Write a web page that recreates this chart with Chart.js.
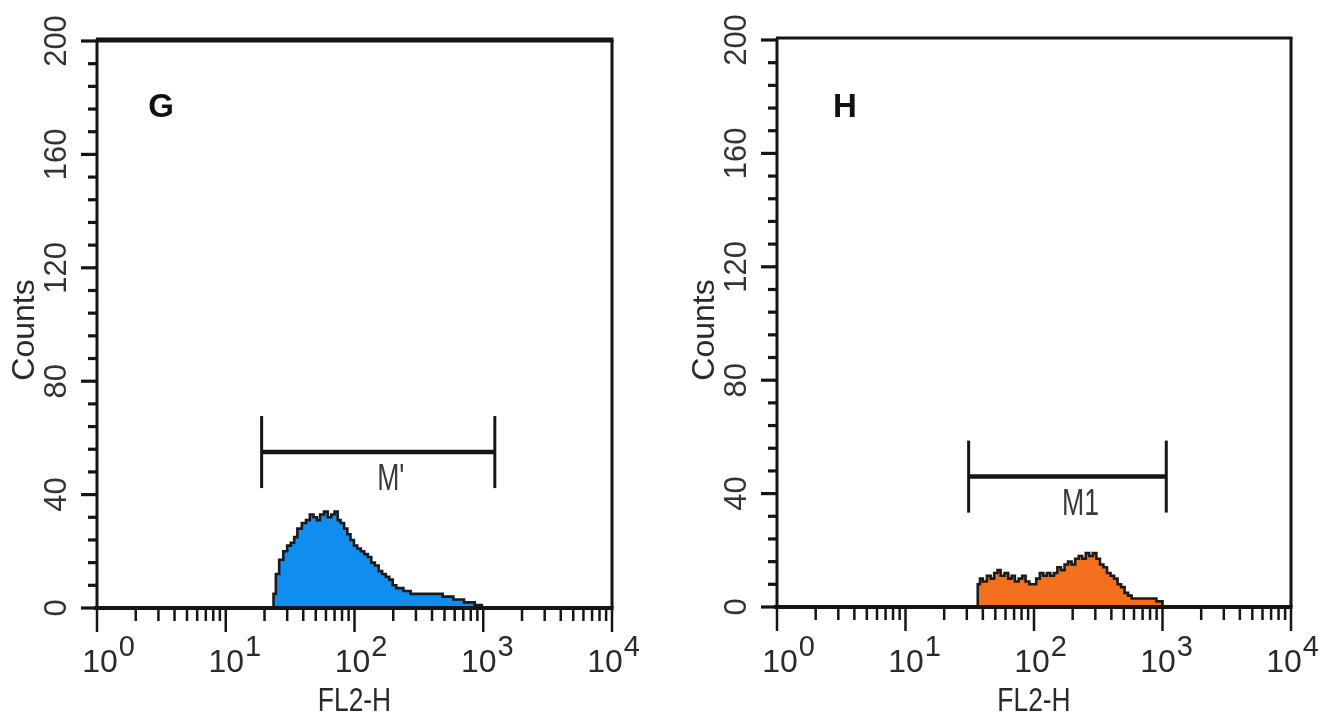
<!DOCTYPE html>
<html>
<head>
<meta charset="utf-8">
<script src="https://cdn.jsdelivr.net/npm/chart.js@4.4.1/dist/chart.umd.min.js"></script>
<style>
  html, body { margin: 0; padding: 0; background: #ffffff; }
  #wrap { position: relative; width: 1320px; height: 716px; overflow: hidden; background: #fff; }
  canvas { position: absolute; top: 0; }
</style>
</head>
<body>
<div id="wrap">
  <canvas id="cG" width="660" height="716" style="left:0px"></canvas>
  <canvas id="cH" width="660" height="716" style="left:660px"></canvas>
</div>
<script>
// ---------- DATA ----------
const panelLetters = ['G', 'H'];
const xTitle = 'FL2-H';
const yTitle = 'Counts';
const xTickExponents = [0, 1, 2, 3, 4];
const yTickLabels = ['0', '40', '80', '120', '160', '200'];

// Panel G histogram (FL2-H channel value, counts)
const gFL2 = [23, 23.5, 24.5, 26, 28, 30, 32, 34, 36, 39, 42, 45, 48, 51, 54, 58, 62, 66, 70, 74, 78, 83, 88, 93, 99, 105, 112, 119, 127, 135, 144, 154, 164, 175, 186, 198, 211, 225, 240, 256, 273, 291, 310, 330, 352, 375, 400, 426, 454, 484, 516, 550, 586, 624, 665, 709, 756, 806, 859, 915, 975];
const gCounts = [0, 5, 12, 17, 20, 22, 23, 25, 28, 30, 31, 33, 32, 31, 33, 34, 32, 33, 34, 31, 30, 28, 26, 24, 22, 21, 20, 19, 18, 16, 15, 13, 12, 11, 10, 8, 7, 7, 6, 6, 5, 5, 5, 5, 5, 5, 5, 5, 5, 4, 4, 4, 3, 3, 3, 2, 2, 2, 1, 1, 0];

// Panel H histogram
const hFL2 = [36, 36.5, 38, 40, 43, 46, 49, 52, 55, 59, 63, 67, 71, 76, 81, 86, 92, 98, 104, 111, 118, 126, 134, 143, 152, 162, 173, 184, 196, 209, 223, 237, 253, 269, 287, 306, 326, 347, 370, 394, 420, 447, 476, 507, 540, 575, 613, 653, 696, 741, 790, 841, 896, 955, 1000];
const hCounts = [0, 8, 10, 9, 11, 10, 12, 13, 11, 12, 10, 11, 9, 10, 11, 9, 8, 8, 10, 12, 11, 12, 11, 12, 14, 13, 15, 16, 15, 17, 18, 17, 19, 18, 19, 17, 15, 14, 12, 11, 10, 8, 7, 5, 4, 3, 3, 3, 3, 3, 3, 3, 2, 2, 0];

// Marker gates: [start, end, counts level]
const gMarker = [19, 1230, 55];
const hMarker = [31, 1070, 46];
const markerLabels = ["M'", 'M1'];

// ---------- DRAWING ----------
const FONT = '"Liberation Sans", Arial, Helvetica, sans-serif';

function pts(xs, ys) { return xs.map((x, i) => ({ x: x, y: ys[i] })); }

const decor = {
  id: 'decor',
  afterDraw(chart, args, o) {
    const ctx = chart.ctx, xs = chart.scales.x, ys = chart.scales.y;
    ctx.save();
    const ink = '#151515';
    ctx.strokeStyle = ink; ctx.fillStyle = ink; ctx.lineCap = 'butt';
    function ln(x1, y1, x2, y2, w) {
      ctx.lineWidth = w; ctx.beginPath(); ctx.moveTo(x1, y1); ctx.lineTo(x2, y2); ctx.stroke();
    }
    function txt(t, x, y, size, opts) {
      opts = opts || {};
      ctx.save();
      ctx.translate(x, y);
      if (opts.rot) ctx.rotate(opts.rot);
      ctx.scale(opts.sx || 1, 1);
      ctx.font = (opts.bold ? 'bold ' : '') + size + 'px ' + FONT;
      ctx.fillStyle = opts.color || '#222';
      ctx.textAlign = opts.align || 'center';
      ctx.textBaseline = opts.base || 'alphabetic';
      ctx.fillText(t, 0, 0);
      const w = ctx.measureText(t).width * (opts.sx || 1);
      ctx.restore();
      return w;
    }
    const x0 = xs.getPixelForValue(1), x4 = xs.getPixelForValue(10000);
    const y0 = ys.getPixelForValue(0), yT = ys.getPixelForValue(200);
    // frame
    ln(x0 - 1, yT - o.topOff, x4 + 1.5, yT - o.topOff, o.topW);
    ln(x4, yT - o.topOff, x4, y0, o.rightW);
    ln(x0, yT - 2, x0, y0 + 2, 3);
    ln(x0 - 3, y0, x4 + 1.5, y0, 4);
    // x ticks (log decades with minor ticks)
    for (let e = 0; e < 4; e++) {
      for (let m = 1; m <= 9; m++) {
        const px = xs.getPixelForValue(m * Math.pow(10, e));
        ln(px, y0, px, y0 + (m === 1 ? 24 : 13), 2.5);
      }
    }
    ln(x4, y0, x4, y0 + 24, 2.5);
    // y ticks
    for (let v = 0; v <= 200; v += 8) {
      const py = ys.getPixelForValue(v);
      ln(x0, py, x0 - (v % 40 === 0 ? 16 : 9), py, 3.2);
    }
    // x tick labels 10^n
    xTickExponents.forEach(e => {
      const px = xs.getPixelForValue(Math.pow(10, e));
      const cx = px + 3 - e * 2.5;
      const w = txt('10', cx, o.xLabBase, 32, { align: 'center', color: '#2a2a2a' });
      txt(String(e), cx + w / 2 + 1, o.xLabBase - 16, 29, { align: 'left', color: '#2a2a2a' });
    });
    // y tick labels rotated
    yTickLabels.forEach(l => {
      const py = ys.getPixelForValue(Number(l));
      txt(l, x0 - 40, py, 31, { rot: -Math.PI / 2, base: 'middle', color: '#333' });
    });
    // axis titles
    txt(xTitle, (x0 + x4) / 2, 711, 33, { sx: 0.8, color: '#2a2a2a' });
    txt(yTitle, x0 - 72, 330, 32, { rot: -Math.PI / 2, base: 'middle', color: '#2a2a2a' });
    // panel letter
    txt(o.letter, o.letterX, 108, 33, { bold: true, base: 'middle', color: '#111' });
    // marker gate
    const mk = o.marker;
    const mx1 = xs.getPixelForValue(mk[0]), mx2 = xs.getPixelForValue(mk[1]), my = ys.getPixelForValue(mk[2]);
    ln(mx1, my, mx2, my, 4.5);
    ln(mx1, my - 36, mx1, my + 36, 3);
    ln(mx2, my - 36, mx2, my + 36, 3);
    txt(o.mLabel, xs.getPixelForValue(o.mLabelX), my + 38, 37, { sx: 0.72, align: 'left', color: '#3a3a3a' });
    ctx.restore();
  }
};

function makeChart(id, xsArr, ysArr, color, opts) {
  return new Chart(document.getElementById(id), {
    type: 'line',
    data: {
      datasets: [{
        data: pts(xsArr, ysArr),
        stepped: true,
        fill: 'origin',
        backgroundColor: color,
        borderColor: '#1a1a1a',
        borderWidth: 2.6,
        pointRadius: 0,
        tension: 0
      }]
    },
    options: {
      responsive: false,
      animation: false,
      devicePixelRatio: 1,
      layout: { padding: { top: opts.top, right: opts.right, left: 0, bottom: 0 } },
      plugins: {
        legend: { display: false },
        tooltip: { enabled: false },
        decor: opts.decor
      },
      scales: {
        x: {
          type: 'logarithmic', min: 1, max: 10000,
          ticks: { display: false }, grid: { display: false }, border: { display: false },
          afterFit: s => { s.height = opts.xh; }
        },
        y: {
          type: 'linear', min: 0, max: 200,
          ticks: { display: false }, grid: { display: false }, border: { display: false },
          afterFit: s => { s.width = opts.yw; }
        }
      }
    },
    plugins: [decor]
  });
}

makeChart('cG', gFL2, gCounts, '#108ef0', {
  top: 41, right: 48, xh: 108, yw: 97,
  decor: { letter: panelLetters[0], letterX: 161, topW: 5, topOff: 1, rightW: 3, xLabBase: 672,
           marker: gMarker, mLabel: markerLabels[0], mLabelX: 150 }
});
makeChart('cH', hFL2, hCounts, '#f5701e', {
  top: 40, right: 29, xh: 109, yw: 117,
  decor: { letter: panelLetters[1], letterX: 185, topW: 3, topOff: 2, rightW: 3, xLabBase: 672,
           marker: hMarker, mLabel: markerLabels[1], mLabelX: 165 }
});
</script>
</body>
</html>
